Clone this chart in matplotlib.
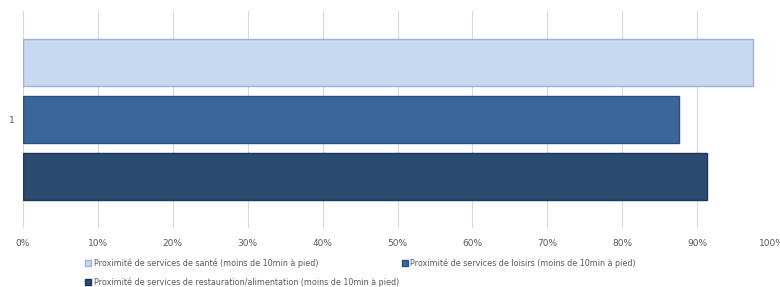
import matplotlib.pyplot as plt
import numpy as np

plt.rcParams['font.family'] = ['Liberation Sans Narrow', 'DejaVu Sans']

categories = ["1"]
series = [
    "Proximité de services de santé (moins de 10min à pied)",
    "Proximité de services de loisirs (moins de 10min à pied)",
    "Proximité de services de restauration/alimentation (moins de 10min à pied)",
]
values = [0.975, 0.876, 0.913]
colors = ["#C6D9F1", "#3A6699", "#2B4A6F"]
edges = ["#9DB3CF", "#2C5082", "#1E3655"]
ticks = np.arange(0, 1.01, 0.1)
tick_labels = [f"{int(round(t * 100))}%" for t in ticks]

fig = plt.figure(figsize=(7.8, 2.87), dpi=100)
ax = fig.add_axes([23 / 780, 1 - 228 / 287, 749 / 780, 217 / 287])

offsets = [1, 0, -1]
for v, off, c, e, lab in zip(values, offsets, colors, edges, series):
    ax.barh(off, v, height=0.81, color=c, edgecolor=e, linewidth=1.0, label=lab, zorder=3)

ax.set_xlim(0, 1)
ax.set_ylim(-1.9, 1.9)
ax.set_xticks(ticks)
ax.set_xticklabels(tick_labels)
ax.set_yticks([0])
ax.set_yticklabels(categories)
ax.tick_params(axis='both', length=0, labelsize=6.5, labelcolor="#595959")
ax.tick_params(axis='x', pad=8)
ax.tick_params(axis='y', pad=6)
ax.grid(axis='x', color="#D9D9D9", linewidth=0.8, zorder=0)
for s in ax.spines.values():
    s.set_visible(False)

# row-major order like Excel: santé, loisirs / restauration
handles, labels = ax.get_legend_handles_labels()
order = [0, 2, 1]
leg = fig.legend([handles[i] for i in order], [labels[i] for i in order],
                 ncol=2, loc='upper left',
                 bbox_to_anchor=(85 / 780, 1 - 258 / 287), frameon=False,
                 fontsize=5.8, labelcolor="#595959", handlelength=0.8, handleheight=0.8,
                 handletextpad=0.3, columnspacing=0.3, labelspacing=1.25,
                 borderaxespad=0, borderpad=0)

fig.savefig("out.png", dpi=100)
